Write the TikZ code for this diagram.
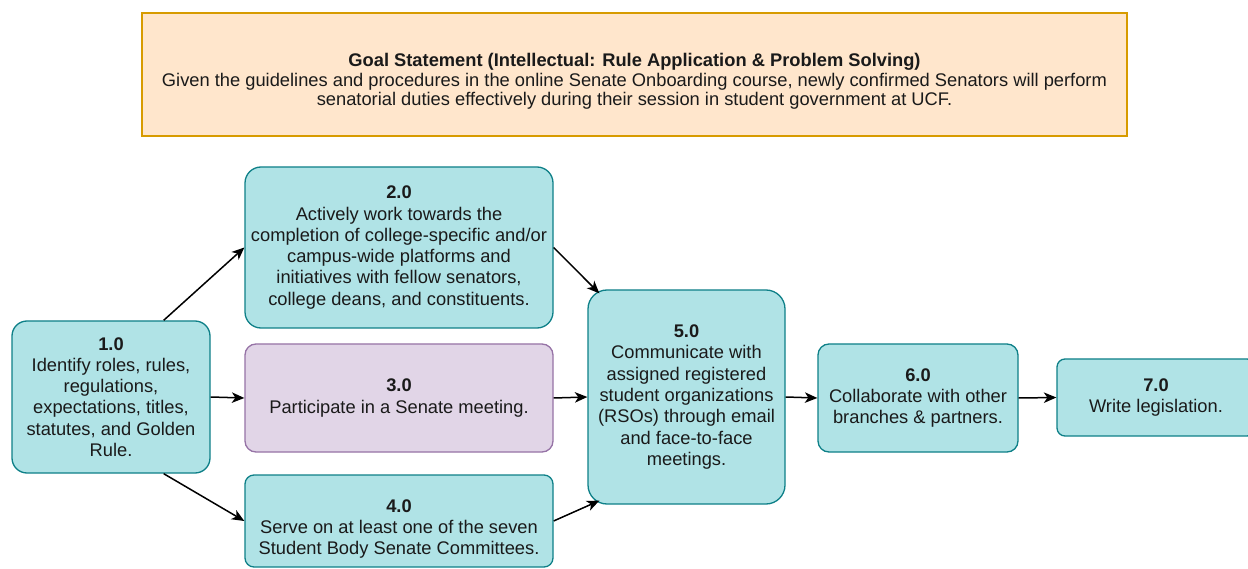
\documentclass[tikz,border=0pt]{standalone}
\usepackage{fontspec}
\setmainfont{Liberation Sans}
\usetikzlibrary{arrows.meta}

\definecolor{tealfill}{HTML}{B0E3E6}
\definecolor{tealline}{HTML}{0E8088}
\definecolor{lilacfill}{HTML}{E1D5E7}
\definecolor{lilacline}{HTML}{9673A6}
\definecolor{goalfill}{HTML}{FFE6CC}
\definecolor{goalline}{HTML}{D79B00}
\definecolor{ink}{HTML}{1A1A1A}

\tikzset{
  label text/.style={align=center, inner sep=0pt, text=ink,
    font=\fontsize{18.3}{21.3}\selectfont},
  stepbox/.style={label text, draw=tealline, fill=tealfill, line width=1.3pt},
  lilacbox/.style={stepbox, draw=lilacline, fill=lilacfill},
  goalbox/.style={draw=goalline, fill=goalfill, line width=1.3pt, inner sep=0pt},
  goal text/.style={label text, font=\fontsize{18.3}{19.5}\selectfont},
  flow/.style={line width=1.5pt, draw=black,
    -{Stealth[length=12.5pt, width=10.5pt, inset=3.5pt]}}
}

\begin{document}
\begin{tikzpicture}[x=1pt, y=-1pt]
  \useasboundingbox[fill=white] (0,0) rectangle (1248,569);
  \clip (0,0) rectangle (1248,569);

  % goal statement: frame, with its text set a little below the middle
  \node[goalbox, minimum width=985pt, minimum height=123pt] (goal) at (634.5,74.5) {};
  \node[goal text] (goaltext) at ([yshift=-7pt]goal.center)
    {\textbf{Goal Statement (Intellectual: Rule Application \& Problem Solving)}\\
     Given the guidelines and procedures in the online Senate Onboarding course, newly confirmed Senators will perform\\
     senatorial duties effectively during their session in student government at UCF.};

  % steps
  \node[stepbox, rounded corners=15pt, minimum width=198pt, minimum height=152pt] (n1) at (111,397)
    {\textbf{1.0}\\Identify roles, rules,\\regulations,\\expectations, titles,\\statutes, and Golden\\Rule.};
  \node[stepbox, rounded corners=16pt, minimum width=308pt, minimum height=161pt] (n2) at (399,247.5)
    {\textbf{2.0}\\Actively work towards the\\completion of college-specific and/or\\campus-wide platforms and\\initiatives with fellow senators,\\college deans, and constituents.};
  \node[lilacbox, rounded corners=11pt, minimum width=308pt, minimum height=108pt] (n3) at (399,398)
    {\textbf{3.0}\\Participate in a Senate meeting.};
  \node[stepbox, rounded corners=9pt, minimum width=308pt, minimum height=92pt] (n4) at (399,521) {};
  \node[label text] (n4text) at ([yshift=-8pt]n4.center)
    {\textbf{4.0}\\Serve on at least one of the seven\\Student Body Senate Committees.};
  \node[stepbox, rounded corners=19pt, minimum width=197pt, minimum height=214pt] (n5) at (686.5,397)
    {\textbf{5.0}\\Communicate with\\assigned registered\\student organizations\\(RSOs) through email\\and face-to-face\\meetings.};
  \node[stepbox, rounded corners=11pt, minimum width=200pt, minimum height=108pt] (n6) at (918,398)
    {\textbf{6.0}\\Collaborate with other\\branches \& partners.};
  \node[stepbox, rounded corners=8pt, minimum width=198pt, minimum height=77pt] (n7) at (1156,397.5)
    {\textbf{7.0}\\Write legislation.};

  % connectors
  \draw[flow] ([xshift=-47pt]n1.north east) -- (n2.west);
  \draw[flow] (n1.east) -- (n3.west);
  \draw[flow] ([xshift=-47pt]n1.south east) -- (n4.west);
  \draw[flow] (n2.east) -- ([xshift=12pt,yshift=-4pt]n5.north west);
  \draw[flow] (n3.east) -- (n5.west);
  \draw[flow] (n4.east) -- ([xshift=12pt,yshift=4pt]n5.south west);
  \draw[flow] (n5.east) -- (n6.west);
  \draw[flow] (n6.east) -- (n7.west);
\end{tikzpicture}
\end{document}
